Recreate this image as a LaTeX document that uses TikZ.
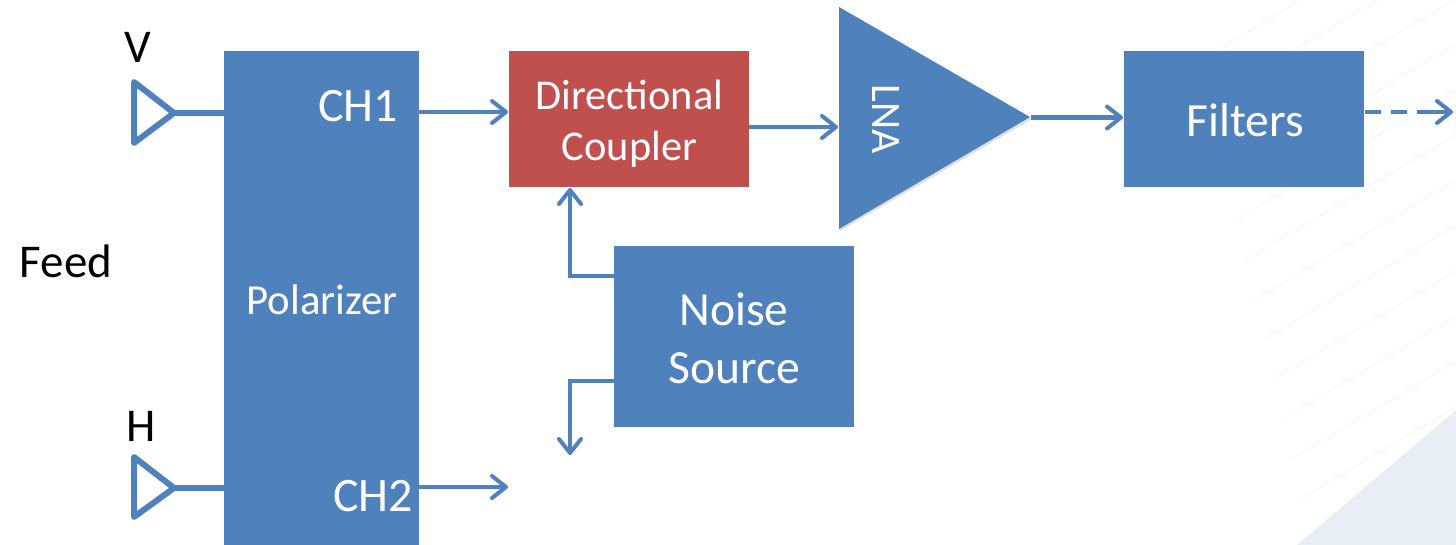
\documentclass[tikz,border=0pt]{standalone}
\usepackage{fontspec}
\setmainfont{Carlito}
\usetikzlibrary{arrows.meta,calc}
\definecolor{bluefill}{HTML}{4F81BD}
\definecolor{redfill}{HTML}{C0504D}
\definecolor{wash}{HTML}{E8EEF6}
\definecolor{streak}{HTML}{F7F8F8}
\tikzset{
  box/.style={fill=bluefill,draw=none,inner sep=0pt,outer sep=0pt,text=white,align=center},
  wire/.style={draw=bluefill,line width=2.2pt},
  link/.style={wire,-{Straight Barb[length=7pt,width=11pt,line width=2pt,round]},shorten >=0.5pt},
  antenna/.style={draw=bluefill,line width=3pt,line join=round,fill=white},
  lab/.style={font=\fontsize{23.5}{26}\selectfont},
  inlab/.style={text=white,inner sep=0pt},
}
\begin{document}
\begin{tikzpicture}[x=0.5pt,y=-0.5pt]
\useasboundingbox (0,0) rectangle (1456,545);
% background
\fill[wash] (1297,545) -- (1456,410) -- (1456,545) -- cycle;
\foreach \i in {0,1,...,11}{
  \draw[streak,line width=0.7pt] ({1200+\i*9},{60+\i*40}) -- ++(300,-178);
}
% blocks
\node[box,minimum width=97.5pt,minimum height=247pt] (pol) at (321.5,298) {};
\node[inlab,font=\fontsize{21.4}{24}\selectfont] (poltxt) at (322,300) {Polarizer};
\node[box,fill=redfill,minimum width=120pt,minimum height=68pt] (dc) at (629,119) {};
\node[inlab,font=\fontsize{21.2}{25.5}\selectfont,align=center] (dctxt) at (629.5,124) {Directional\\Coupler};
\node[box,minimum width=120pt,minimum height=90.5pt] (ns) at (734,336.5) {};
\node[inlab,font=\fontsize{23.8}{29}\selectfont,align=center] (nstxt) at (734,338) {Noise\\Source};
\node[box,minimum width=120pt,minimum height=68pt] (filt) at (1244,119) {};
\node[inlab,font=\fontsize{23.8}{28}\selectfont] (filttxt) at (1245,120) {Filters};
% LNA
\fill[black,opacity=0.12] (840,9) -- (840,231) -- (1032,119) -- cycle;
\fill[bluefill] (839,7) -- (839,229) -- (1030,117) -- cycle;
\coordinate (lnain) at (839,127);
\coordinate (lnaout) at (1031,117.5);
\node[inlab,rotate=-90,font=\fontsize{21}{24}\selectfont] (lna) at (886,119) {LNA};
% feed horns
\draw[antenna] (134,82) -- (134,143) -- (174,113) -- cycle;
\coordinate (vtip) at (174,113);
\draw[antenna] (134,457) -- (134,517) -- (174,488) -- cycle;
\coordinate (htip) at (174,488);
\draw[draw=bluefill,line width=2.7pt] (vtip) -- (vtip -| pol.west);
\draw[draw=bluefill,line width=2.7pt] (htip) -- (htip -| pol.west);
% labels
\node[lab,inner sep=0pt] (vl) at (138,47) {V};
\node[lab,inner sep=0pt] (hl) at (141,426) {H};
\node[lab,inner sep=0pt] (feed) at (66,261) {Feed};
\node[inlab,font=\fontsize{24}{26}\selectfont] (ch1) at (358,106) {CH1};
\node[inlab,font=\fontsize{24}{26}\selectfont] (ch2) at (373,496) {CH2};
% connectors
\coordinate (a1) at (419,112);
\draw[link] (a1) -- (a1 -| dc.west);
\coordinate (a2) at (419,487);
\coordinate (a2e) at (509,487);
\draw[link] (a2) -- (a2e);
\draw[link] (749,127) -- (lnain);
\draw[link] (lnaout) -- (lnaout -| filt.west);
\coordinate (d1) at (570,187);
\coordinate (n1) at (614,276);
\draw[link] (n1) -- (n1 -| d1) -- (d1);
\coordinate (n2) at (614,381);
\coordinate (d2) at (570,456);
\draw[link] (n2) -- (n2 -| d2) -- (d2);
\coordinate (f1) at (1365,112);
\coordinate (f2) at (1454,112);
\draw[wire,dash pattern=on 8pt off 5pt] (f1) -- (1432,112);
\draw[link] (1420,112) -- (f2);
\end{tikzpicture}
\end{document}
